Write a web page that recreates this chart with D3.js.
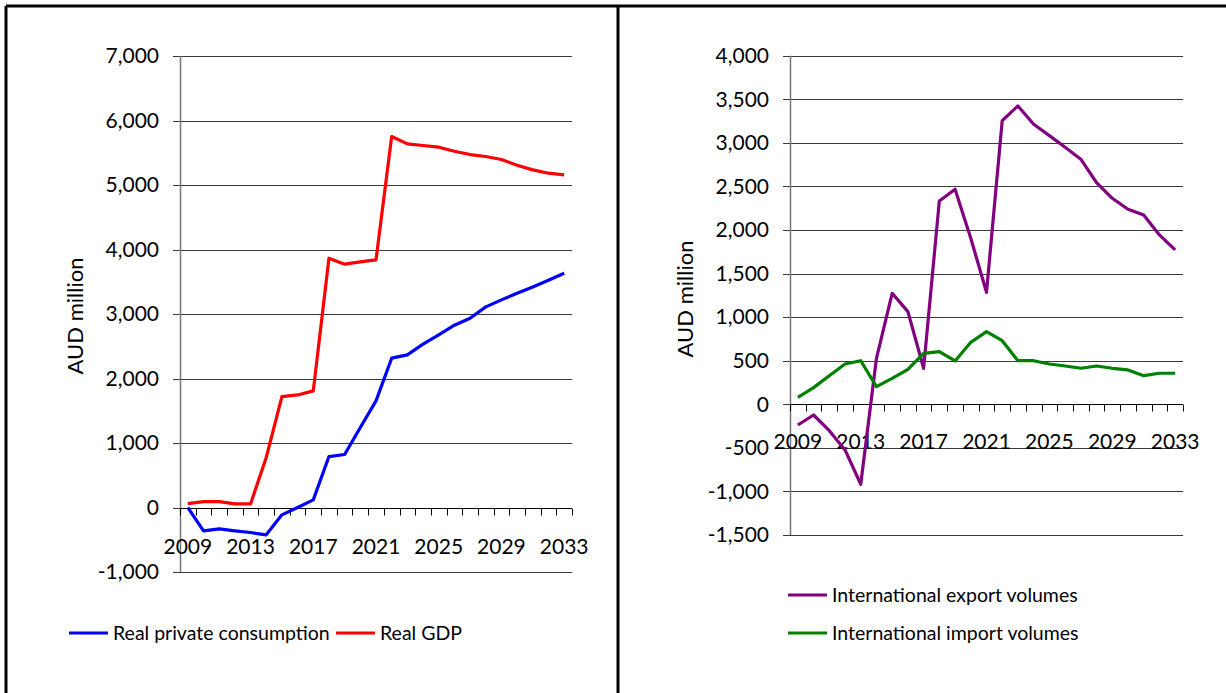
<!DOCTYPE html>
<html>
<head>
<meta charset="utf-8">
<script src="https://d3js.org/d3.v7.min.js"></script>
<style>
  body { margin: 0; background: #fff; }
  text { font-family: Lato, "Open Sans", sans-serif; fill: #000; }
</style>
</head>
<body>
<div id="charts"></div>
<script>
/* data */
var years = d3.range(2009, 2034);
var yearLabels = ["2009", "2013", "2017", "2021", "2025", "2029", "2033"];

var consumption = [0, -362, -331, -362, -388, -424, -114, 0, 118, 790, 822, 1240, 1653,
                   2315, 2366, 2532, 2676, 2826, 2935, 3110, 3219, 3323, 3420, 3524, 3633];
var gdp = [60, 90, 90, 55, 55, 775, 1720, 1745, 1808, 3865, 3772, 3808, 3839,
           5752, 5637, 5612, 5586, 5524, 5472, 5442, 5395, 5307, 5234, 5183, 5157];

var exports = [-238, -123, -303, -524, -918, 528, 1274, 1063, 413, 2333, 2467, 1905, 1285,
               3255, 3423, 3213, 3083, 2949, 2812, 2543, 2364, 2238, 2172, 1943, 1771];
var imports = [80, 191, 328, 462, 500, 202, 298, 401, 585, 604, 497, 711, 833,
               730, 500, 500, 462, 439, 413, 439, 413, 394, 328, 356, 356];

var leftTicks = d3.range(-1000, 7001, 1000);
var rightTicks = d3.range(-1500, 4001, 500);

var width = 1226, height = 693,
    fontSize = 21,
    format = d3.formatLocale({ decimal: ".", thousands: ",", grouping: [3], currency: ["", ""], minus: "-" }).format(",");

var svg = d3.select("#charts")
            .append("svg")
            .attr("width", width)
            .attr("height", height);

/* frame of the table the charts sit in */
svg.append("line").attr("x1", 6).attr("x2", width).attr("y1", 6).attr("y2", 6)
    .attr("stroke", "#000").attr("stroke-width", 3);
svg.append("line").attr("x1", 6).attr("x2", 6).attr("y1", 6).attr("y2", height)
    .attr("stroke", "#000").attr("stroke-width", 3);
svg.append("line").attr("x1", 618).attr("x2", 618).attr("y1", 6).attr("y2", height)
    .attr("stroke", "#000").attr("stroke-width", 3);

function drawChart(opt) {
    var x = d3.scaleBand()
        .domain(years)
        .range(opt.xRange);

    var y = d3.scaleLinear()
        .domain(opt.yDomain)
        .range(opt.yRange);

    var g = svg.append("g");

    /* gridlines with outward ticks */
    g.append("g")
        .selectAll("line")
        .data(opt.ticks)
        .enter().append("line")
            .attr("x1", opt.xRange[0] - 7)
            .attr("x2", opt.xRange[1])
            .attr("y1", function(d) { return Math.round(y(d)) + 0.5; })
            .attr("y2", function(d) { return Math.round(y(d)) + 0.5; })
            .attr("stroke", "#3a3a3a")
            .attr("stroke-width", 1);

    /* y tick labels */
    g.append("g")
        .selectAll("text")
        .data(opt.ticks)
        .enter().append("text")
            .attr("x", opt.xRange[0] - 21)
            .attr("y", function(d) { return y(d); })
            .attr("dy", "0.35em")
            .attr("text-anchor", "end")
            .attr("font-size", fontSize)
            .text(function(d) { return format(d); });

    /* y axis line */
    g.append("line")
        .attr("x1", opt.xRange[0] + 0.5).attr("x2", opt.xRange[0] + 0.5)
        .attr("y1", opt.yRange[1]).attr("y2", opt.yRange[0])
        .attr("stroke", "#777").attr("stroke-width", 1.5);

    /* x axis on zero, ticks between categories */
    var y0 = Math.round(y(0)) + 0.5;
    g.append("line")
        .attr("x1", opt.xRange[0]).attr("x2", opt.xRange[1])
        .attr("y1", y0).attr("y2", y0)
        .attr("stroke", "#000").attr("stroke-width", 1.2);

    var edges = years.map(function(d) { return x(d); }).concat([opt.xRange[1]]);
    g.append("g")
        .selectAll("line")
        .data(edges)
        .enter().append("line")
            .attr("x1", function(d) { return Math.round(d) + 0.5; })
            .attr("x2", function(d) { return Math.round(d) + 0.5; })
            .attr("y1", y0)
            .attr("y2", y0 + 7)
            .attr("stroke", "#000");

    g.append("g")
        .selectAll("text")
        .data(yearLabels)
        .enter().append("text")
            .attr("x", function(d) { return x(+d) + x.bandwidth() / 2; })
            .attr("y", y0 + opt.labelOffset)
            .attr("dy", "0.35em")
            .attr("text-anchor", "middle")
            .attr("font-size", fontSize)
            .text(function(d) { return d; });

    /* axis title */
    g.append("text")
        .attr("transform", "translate(" + opt.titlePos[0] + "," + opt.titlePos[1] + ")rotate(-90)")
        .attr("text-anchor", "middle")
        .attr("dy", "0.35em")
        .attr("font-size", 22)
        .text("AUD million");

    /* series lines */
    var line = d3.line()
        .x(function(d, i) { return x(years[i]) + x.bandwidth() / 2; })
        .y(function(d) { return y(d); });

    opt.series.forEach(function(s) {
        g.append("path")
            .datum(s.values)
            .attr("fill", "none")
            .attr("stroke", s.color)
            .attr("stroke-width", 3.2)
            .attr("stroke-linejoin", "round")
            .attr("d", line);
    });

    /* legend */
    var note = g.append("g")
        .selectAll("g")
        .data(opt.series)
        .enter().append("g")
            .attr("transform", function(d) { return "translate(" + d.legend[0] + "," + d.legend[1] + ")"; });

    note.append("line")
        .attr("x1", 0).attr("x2", 39)
        .attr("stroke", function(d) { return d.color; })
        .attr("stroke-width", 3.2);

    note.append("text")
        .attr("x", 44)
        .attr("dy", "0.35em")
        .attr("font-size", 19.5)
        .text(function(d) { return d.name; });
}

drawChart({
    xRange: [180, 572],
    yDomain: [-1000, 7000],
    yRange: [572, 56],
    ticks: leftTicks,
    labelOffset: 38,
    titlePos: [75, 316],
    series: [
        { name: "Real private consumption", values: consumption, color: "#0000ff", legend: [69, 633] },
        { name: "Real GDP", values: gdp, color: "#ff0000", legend: [336, 633] }
    ]
});

drawChart({
    xRange: [790, 1183],
    yDomain: [-1500, 4000],
    yRange: [535, 55.7],
    ticks: rightTicks,
    labelOffset: 37,
    titlePos: [685, 299],
    series: [
        { name: "International export volumes", values: exports, color: "#800080", legend: [788, 595] },
        { name: "International import volumes", values: imports, color: "#008000", legend: [788, 633] }
    ]
});
</script>
</body>
</html>
